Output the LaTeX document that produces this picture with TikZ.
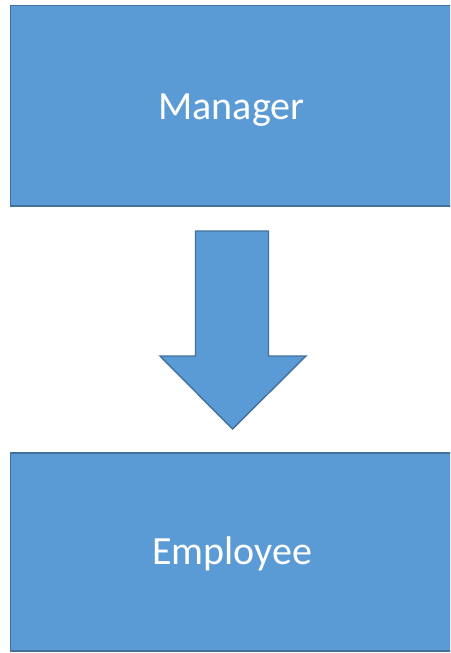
\documentclass[tikz,border=0pt]{standalone}
\usepackage{fontspec}
\setmainfont{Carlito}
\definecolor{boxfill}{HTML}{5B9BD5}
\definecolor{boxline}{HTML}{41719C}
\begin{document}
\begin{tikzpicture}[x=1pt,y=-1pt,
  blockbox/.style={fill=boxfill,draw=boxline,line width=1.4pt},
  blocklabel/.style={text=white,anchor=base,inner sep=0pt,font=\fontsize{40}{48}\selectfont}]
\useasboundingbox (0,0) rectangle (450,653);
\clip (0,0) rectangle (450,653);
\fill[white] (0,0) rectangle (450,653);
% top box
\draw[blockbox] (10.5,5.7) rectangle (452,206);
\node[blocklabel] (manager) at (231.5,119) {Manager};
% bottom box
\draw[blockbox] (10.5,453) rectangle (452,651);
\node[blocklabel] (employee) at (232,564.5) {Employee};
% arrow
\draw[blockbox,line join=miter] (195.5,231) -- (268.5,231) -- (268.5,356) -- (306,356)
  -- (232.5,429) -- (160,356) -- (195.5,356) -- cycle;
\end{tikzpicture}
\end{document}
